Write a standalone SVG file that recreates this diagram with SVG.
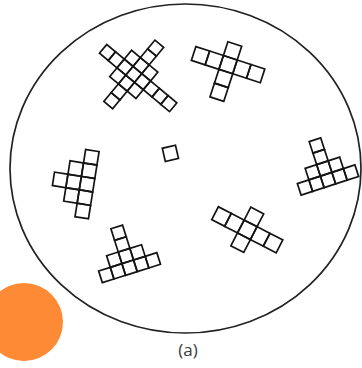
<svg xmlns="http://www.w3.org/2000/svg" width="362" height="368" viewBox="0 0 362 368">
<style>
.c{fill:none;stroke:#141414;stroke-width:1.7}
.s1{width:11.4px;height:11.4px}
.lbl{font-family:"Open Sans","Liberation Sans",sans-serif;font-size:17px;fill:#3a3a3a}
</style>
<rect width="362" height="368" fill="#fff"/>
<g id="dish">
<ellipse cx="185.5" cy="168.5" rx="175.5" ry="164.5" fill="none" stroke="#222" stroke-width="1.7"/>
</g>
<g id="cluster1" transform="translate(107.5,52.5) rotate(39.8)">
<rect class="c" x="-5.7" y="-5.7" width="11.4" height="11.4"/>
<rect class="c" x="5.7" y="-5.7" width="11.4" height="11.4"/>
<rect class="c" x="17.1" y="-5.7" width="11.4" height="11.4"/>
<rect class="c" x="28.5" y="-5.7" width="11.4" height="11.4"/>
<rect class="c" x="39.9" y="-5.7" width="11.4" height="11.4"/>
<rect class="c" x="51.3" y="-5.7" width="11.4" height="11.4"/>
<rect class="c" x="62.7" y="-5.7" width="11.4" height="11.4"/>
<rect class="c" x="74.1" y="-5.7" width="11.4" height="11.4"/>
<rect class="c" x="28.5" y="-39.9" width="11.4" height="11.4"/>
<rect class="c" x="28.5" y="-28.5" width="11.4" height="11.4"/>
<rect class="c" x="28.5" y="-17.1" width="11.4" height="11.4"/>
<rect class="c" x="28.5" y="5.7" width="11.4" height="11.4"/>
<rect class="c" x="28.5" y="17.1" width="11.4" height="11.4"/>
<rect class="c" x="28.5" y="28.5" width="11.4" height="11.4"/>
<rect class="c" x="17.1" y="-17.1" width="11.4" height="11.4"/>
<rect class="c" x="39.9" y="-17.1" width="11.4" height="11.4"/>
<rect class="c" x="17.1" y="5.7" width="11.4" height="11.4"/>
<rect class="c" x="39.9" y="5.7" width="11.4" height="11.4"/>
</g>
<g id="cluster2" transform="translate(200.5,55.7) rotate(18)">
<rect class="c" x="-7.25" y="-7.25" width="14.5" height="14.5"/>
<rect class="c" x="7.25" y="-7.25" width="14.5" height="14.5"/>
<rect class="c" x="21.75" y="-7.25" width="14.5" height="14.5"/>
<rect class="c" x="36.25" y="-7.25" width="14.5" height="14.5"/>
<rect class="c" x="50.75" y="-7.25" width="14.5" height="14.5"/>
<rect class="c" x="21.75" y="-21.75" width="14.5" height="14.5"/>
<rect class="c" x="21.75" y="7.25" width="14.5" height="14.5"/>
<rect class="c" x="21.75" y="21.75" width="14.5" height="14.5"/>
</g>
<g id="cluster3" transform="translate(91.3,157.3) rotate(9)">
<rect class="c" x="-6.8" y="-6.8" width="13.6" height="13.6"/>
<rect class="c" x="-6.8" y="6.8" width="13.6" height="13.6"/>
<rect class="c" x="-6.8" y="20.4" width="13.6" height="13.6"/>
<rect class="c" x="-6.8" y="34" width="13.6" height="13.6"/>
<rect class="c" x="-6.8" y="47.6" width="13.6" height="13.6"/>
<rect class="c" x="-20.4" y="6.8" width="13.6" height="13.6"/>
<rect class="c" x="-20.4" y="20.4" width="13.6" height="13.6"/>
<rect class="c" x="-20.4" y="34" width="13.6" height="13.6"/>
<rect class="c" x="-34" y="20.4" width="13.6" height="13.6"/>
</g>
<g id="cell4" transform="translate(170.4,153.3) rotate(-13)">
<rect class="c" x="-6.75" y="-6.75" width="13.5" height="13.5"/>
</g>
<g id="cluster5" transform="translate(305,187.5) rotate(-18)">
<rect class="c" x="-6.05" y="-6.05" width="12.1" height="12.1"/>
<rect class="c" x="6.05" y="-6.05" width="12.1" height="12.1"/>
<rect class="c" x="18.15" y="-6.05" width="12.1" height="12.1"/>
<rect class="c" x="30.25" y="-6.05" width="12.1" height="12.1"/>
<rect class="c" x="42.35" y="-6.05" width="12.1" height="12.1"/>
<rect class="c" x="6.05" y="-18.15" width="12.1" height="12.1"/>
<rect class="c" x="18.15" y="-18.15" width="12.1" height="12.1"/>
<rect class="c" x="30.25" y="-18.15" width="12.1" height="12.1"/>
<rect class="c" x="18.15" y="-30.25" width="12.1" height="12.1"/>
<rect class="c" x="18.15" y="-42.35" width="12.1" height="12.1"/>
</g>
<g id="cluster6" transform="translate(221.5,216.5) rotate(27.3)">
<rect class="c" x="-7.25" y="-7.25" width="14.5" height="14.5"/>
<rect class="c" x="7.25" y="-7.25" width="14.5" height="14.5"/>
<rect class="c" x="21.75" y="-7.25" width="14.5" height="14.5"/>
<rect class="c" x="36.25" y="-7.25" width="14.5" height="14.5"/>
<rect class="c" x="50.75" y="-7.25" width="14.5" height="14.5"/>
<rect class="c" x="21.75" y="-21.75" width="14.5" height="14.5"/>
<rect class="c" x="21.75" y="7.25" width="14.5" height="14.5"/>
</g>
<g id="cluster7" transform="translate(106.3,275) rotate(-17.5)">
<rect class="c" x="-6.1" y="-6.1" width="12.2" height="12.2"/>
<rect class="c" x="6.1" y="-6.1" width="12.2" height="12.2"/>
<rect class="c" x="18.3" y="-6.1" width="12.2" height="12.2"/>
<rect class="c" x="30.5" y="-6.1" width="12.2" height="12.2"/>
<rect class="c" x="42.7" y="-6.1" width="12.2" height="12.2"/>
<rect class="c" x="6.1" y="-18.3" width="12.2" height="12.2"/>
<rect class="c" x="18.3" y="-18.3" width="12.2" height="12.2"/>
<rect class="c" x="30.5" y="-18.3" width="12.2" height="12.2"/>
<rect class="c" x="18.3" y="-30.5" width="12.2" height="12.2"/>
<rect class="c" x="18.3" y="-42.7" width="12.2" height="12.2"/>
</g>
<g id="marker">
<circle cx="24" cy="322" r="39" fill="#fe8a35"/>
</g>
<g id="label">
<text class="lbl" x="188" y="356" text-anchor="middle">(a)</text>
</g>
</svg>
